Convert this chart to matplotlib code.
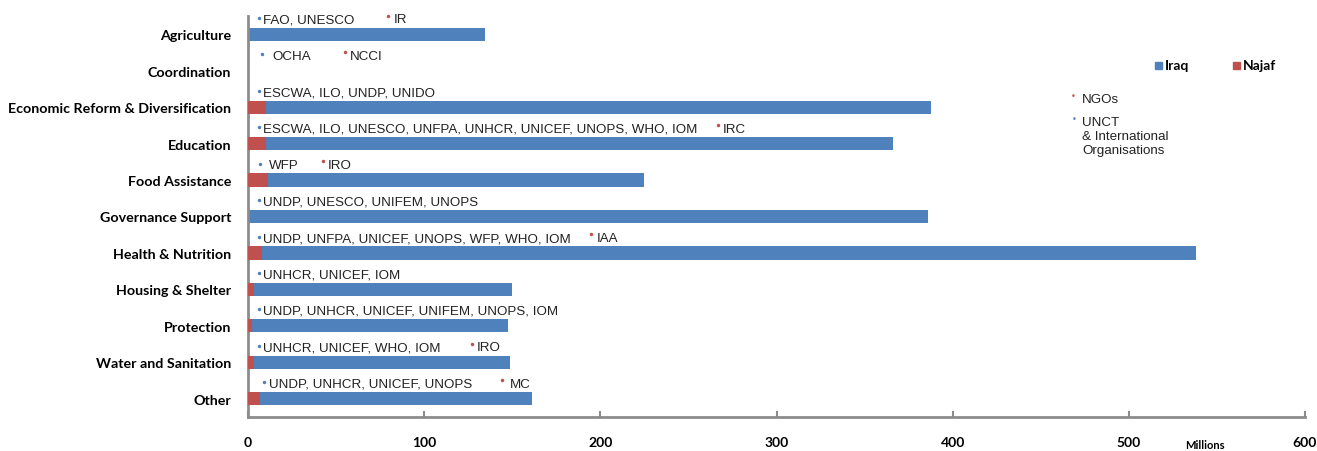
import matplotlib
matplotlib.use("Agg")
import matplotlib.pyplot as plt
from matplotlib.font_manager import fontManager

categories = ["Agriculture", "Coordination", "Economic Reform & Diversification",
              "Education", "Food Assistance", "Governance Support",
              "Health & Nutrition", "Housing & Shelter", "Protection",
              "Water and Sanitation", "Other"]
iraq = [134.5, 0, 387.7, 366, 225, 386, 538, 150, 147.5, 149, 161]
najaf = [0, 0, 10, 10, 11.5, 0, 8, 3.5, 2, 3.5, 7]
un_agencies = ["FAO, UNESCO", "OCHA", "ESCWA, ILO, UNDP, UNIDO",
               "ESCWA, ILO, UNESCO, UNFPA, UNHCR, UNICEF, UNOPS, WHO, IOM",
               "WFP", "UNDP, UNESCO, UNIFEM, UNOPS",
               "UNDP, UNFPA, UNICEF, UNOPS, WFP, WHO, IOM",
               "UNHCR, UNICEF, IOM", "UNDP, UNHCR, UNICEF, UNIFEM, UNOPS, IOM",
               "UNHCR, UNICEF, WHO, IOM", "UNDP, UNHCR, UNICEF, UNOPS"]
ngos = ["IR", "NCCI", "", "IRC", "IRO", "", "IAA", "", "", "IRO", "MC"]
xticks = [0, 100, 200, 300, 400, 500, 600]

# layout (annotation anchor positions along x, in data units)
un_dot_x = [6.2, 8.0, 6.2, 6.2, 6.8, 6.2, 6.2, 6.2, 6.2, 6.2, 9.0]
un_txt_x = [8.3, 13.6, 8.3, 8.3, 11.9, 8.3, 8.3, 8.3, 8.3, 8.3, 11.8]
ngo_dot_x = [79.5, 55, 0, 266.8, 42.6, 0, 194.7, 0, 0, 127, 144]
ngo_txt_x = [82.5, 58, 0, 269.6, 45.4, 0, 197.8, 0, 0, 130, 148.5]

BLUE = "#4F81BD"
RED = "#C0504D"
GRAY = "#8C8C8C"

names = {f.name for f in fontManager.ttflist}
bold_font = "Lato" if "Lato" in names else "Liberation Sans"
sans = "Liberation Sans"

fig = plt.figure(figsize=(13.17, 4.52), dpi=100)
ax = fig.add_axes([248/1317, 1-418/452, (1305-248)/1317, (418-17)/452])

ypos = list(range(len(categories)))
h = 0.36
ax.barh(ypos, iraq, height=h, color=BLUE, zorder=2)
ax.barh(ypos, najaf, height=h, color=RED, zorder=3)

off = -0.41
for i in ypos:
    ax.plot(un_dot_x[i], i + off - 0.04, "o", ms=2.5, color=BLUE, mec="none", clip_on=False)
    ax.text(un_txt_x[i], i + off, un_agencies[i], fontsize=9.6, family=sans,
            color="#222222", va="center", ha="left")
    if ngos[i]:
        ax.plot(ngo_dot_x[i], i + off - 0.1, "o", ms=2.5, color=RED, mec="none", clip_on=False)
        ax.text(ngo_txt_x[i], i + off, ngos[i], fontsize=9.6, family=sans,
                color="#222222", va="center", ha="left")

ax.set_xlim(0, 600)
ax.set_ylim(len(categories) - 0.5, -0.5)
ax.set_yticks(ypos)
ax.set_yticklabels(categories, fontsize=10.3, family=bold_font, fontweight="bold")
ax.tick_params(axis="y", length=0, pad=12)
ax.set_xticks(xticks)
ax.set_xticklabels([str(t) for t in xticks], fontsize=10, family=bold_font, fontweight="bold")
ax.tick_params(axis="x", direction="in", length=4, width=1.5, color=GRAY, pad=14)

for s in ["top", "right"]:
    ax.spines[s].set_visible(False)
for s in ["left", "bottom"]:
    ax.spines[s].set_color(GRAY)
    ax.spines[s].set_linewidth(2)

# legend
fig.patches.append(plt.Rectangle((1155/1317, 1-70/452), 7/1317, 7/452,
                                 transform=fig.transFigure, color=BLUE))
fig.text(1165/1317, 1-66/452, "Iraq", fontsize=10, family=bold_font, fontweight="bold",
         va="center", ha="left")
fig.patches.append(plt.Rectangle((1233/1317, 1-70/452), 7/1317, 7/452,
                                 transform=fig.transFigure, color=RED))
fig.text(1243/1317, 1-66/452, "Najaf", fontsize=10, family=bold_font, fontweight="bold",
         va="center", ha="left")

fig.text(1073/1317, 1-97/452, "•", fontsize=6, color=RED, va="center", ha="center")
fig.text(1082/1317, 1-100/452, "NGOs", fontsize=9.6, family=sans, color="#222222",
         va="center", ha="left")
fig.text(1074/1317, 1-120/452, "•", fontsize=6, color=BLUE, va="center", ha="center")
fig.text(1082/1317, 1-117/452, "UNCT\n& International\nOrganisations", fontsize=9.6,
         family=sans, color="#222222", va="top", ha="left", linespacing=1.2)

fig.text(1205/1317, 1-451/452, "Millions", fontsize=8, family=bold_font,
         fontweight="bold", va="bottom", ha="center")

fig.savefig("out.png", dpi=100)
